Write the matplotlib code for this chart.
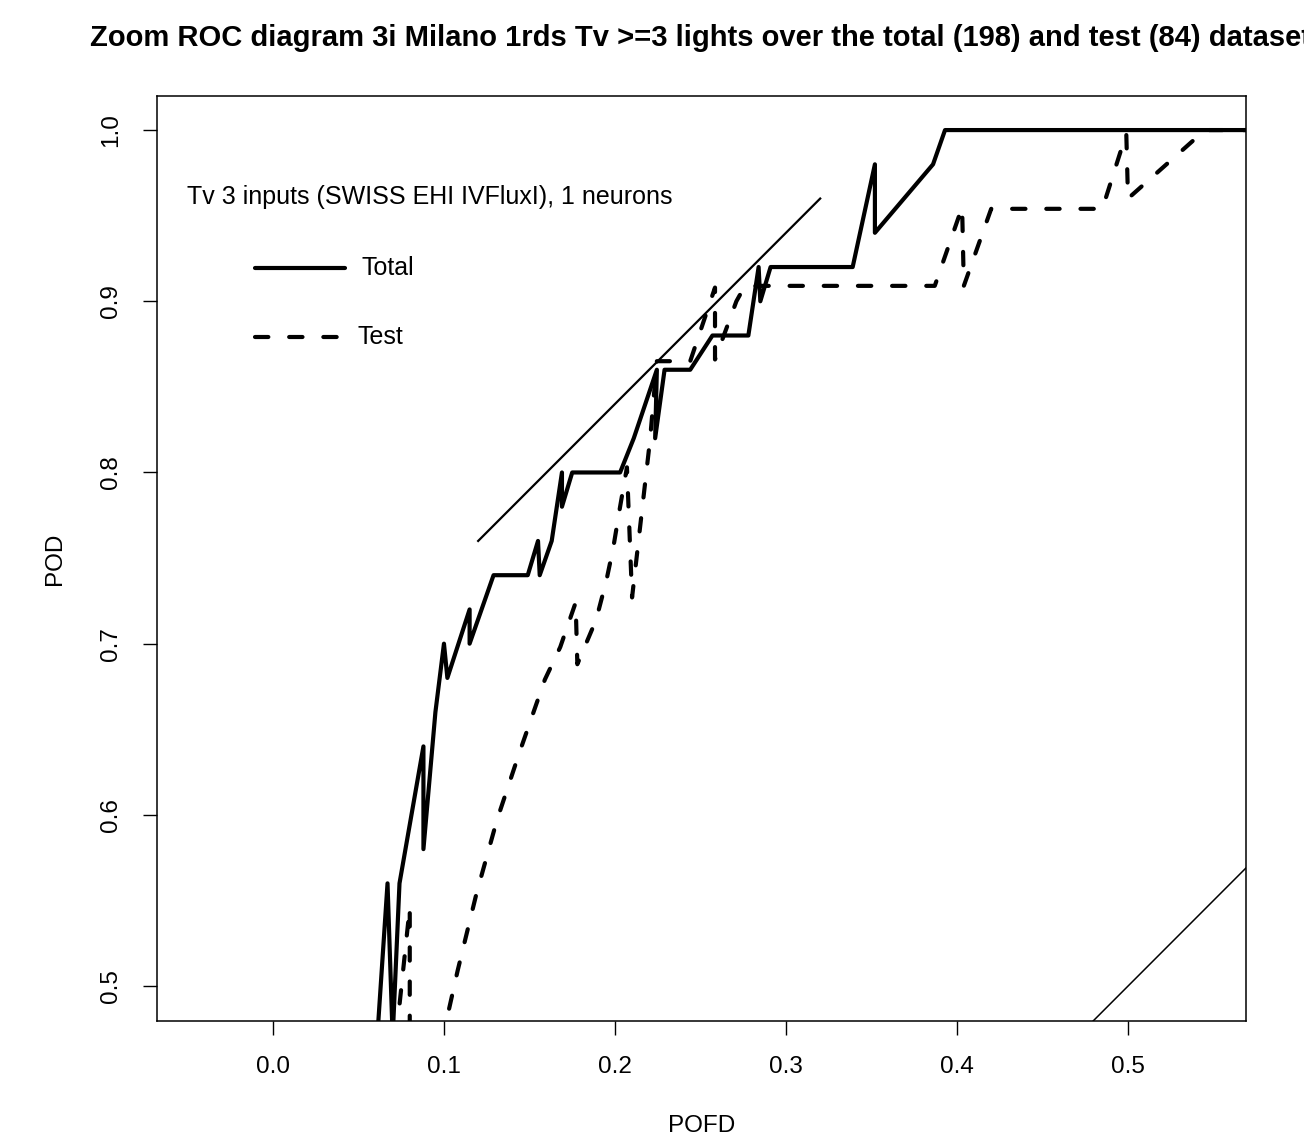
import matplotlib
matplotlib.use("Agg")
import matplotlib.pyplot as plt

plt.rcParams['font.family'] = ['Liberation Sans', 'DejaVu Sans']

# ROC points (POFD, POD)
total_pofd = [0.061, 0.067, 0.070, 0.074, 0.088, 0.088, 0.095, 0.100, 0.102, 0.115, 0.115,
              0.129, 0.149, 0.155, 0.156, 0.163, 0.169, 0.169, 0.175, 0.203, 0.211, 0.2245,
              0.2235, 0.229, 0.244, 0.257, 0.278, 0.284, 0.285, 0.291, 0.339, 0.352, 0.352,
              0.386, 0.393, 0.600]
total_pod = [0.47, 0.56, 0.47, 0.56, 0.64, 0.58, 0.66, 0.70, 0.68, 0.72, 0.70,
             0.74, 0.74, 0.76, 0.74, 0.76, 0.80, 0.78, 0.80, 0.80, 0.82, 0.86,
             0.82, 0.86, 0.86, 0.88, 0.88, 0.92, 0.90, 0.92, 0.92, 0.98, 0.94,
             0.98, 1.00, 1.00]

test_pofd = [0.072, 0.080, 0.080, 0.097, 0.108, 0.119, 0.131, 0.144, 0.159, 0.168, 0.177,
             0.178, 0.189, 0.195, 0.199, 0.203, 0.207, 0.210, 0.2205, 0.2245, 0.244,
             0.2585, 0.2585, 0.271, 0.276, 0.387, 0.403, 0.404, 0.420, 0.485, 0.499,
             0.500, 0.545, 0.600]
test_pod = [0.47, 0.546, 0.47, 0.46, 0.509, 0.554, 0.597, 0.636, 0.679, 0.698, 0.724,
            0.688, 0.714, 0.737, 0.756, 0.780, 0.803, 0.727, 0.819, 0.865, 0.865,
            0.908, 0.866, 0.900, 0.909, 0.909, 0.955, 0.909, 0.954, 0.954, 0.998,
            0.960, 1.000, 1.000]

# thin reference lines
tangent_x = [0.12, 0.32]
tangent_y = [0.76, 0.96]
diag_x = [0.0, 1.0]
diag_y = [0.0, 1.0]

fig = plt.figure(figsize=(13.04, 11.42), dpi=100)
ax = fig.add_axes([157 / 1304, 1 - 1021 / 1142, (1246 - 157) / 1304, (1021 - 96) / 1142])

ax.plot(diag_x, diag_y, color='black', lw=1.1)
ax.plot(tangent_x, tangent_y, color='black', lw=1.6)
ax.plot(total_pofd, total_pod, color='black', lw=3.0, solid_joinstyle='round',
        solid_capstyle='round')
ax.plot(test_pofd, test_pod, color='black', lw=3.0, dashes=(3.2, 5.0),
        dash_capstyle='round', dash_joinstyle='round')

ax.set_xlim(-0.0678, 0.569)
ax.set_ylim(0.4796, 1.0199)

ax.set_xticks([0.0, 0.1, 0.2, 0.3, 0.4, 0.5])
ax.set_xticklabels(['0.0', '0.1', '0.2', '0.3', '0.4', '0.5'])
ax.set_yticks([0.5, 0.6, 0.7, 0.8, 0.9, 1.0])
ax.set_yticklabels(['0.5', '0.6', '0.7', '0.8', '0.9', '1.0'], rotation=90, va='center')
ax.tick_params(direction='out', length=10, width=1, labelsize=17.5, pad=15)
ax.tick_params(axis='y', pad=15)
for s in ax.spines.values():
    s.set_linewidth(1.1)

ax.set_xlabel('POFD', fontsize=17.5, labelpad=27)
ax.set_ylabel('POD', fontsize=17.5, labelpad=25)

fig.text(90 / 1304, 1 - 38 / 1142, 'Zoom ROC diagram 3i Milano 1rds Tv >=3 lights over the total (198) and test (84) dataset',
         ha='left', va='center', fontsize=21, fontweight='bold')

# legend drawn like the R version
ax.text(0.0275, 0.891, 'Tv 3 inputs (SWISS EHI IVFluxI), 1 neurons', transform=ax.transAxes,
        ha='left', va='center', fontsize=18)
ax.plot([0.090, 0.173], [0.814, 0.814], transform=ax.transAxes, color='black', lw=3.0,
        solid_capstyle='round')
ax.text(0.188, 0.814, 'Total', transform=ax.transAxes, ha='left', va='center', fontsize=18)
ax.plot([0.090, 0.173], [0.740, 0.740], transform=ax.transAxes, color='black', lw=3.0,
        dashes=(3.2, 5.0), dash_capstyle='round')
ax.text(0.184, 0.740, 'Test', transform=ax.transAxes, ha='left', va='center', fontsize=18)

fig.savefig('out.png', dpi=100)
